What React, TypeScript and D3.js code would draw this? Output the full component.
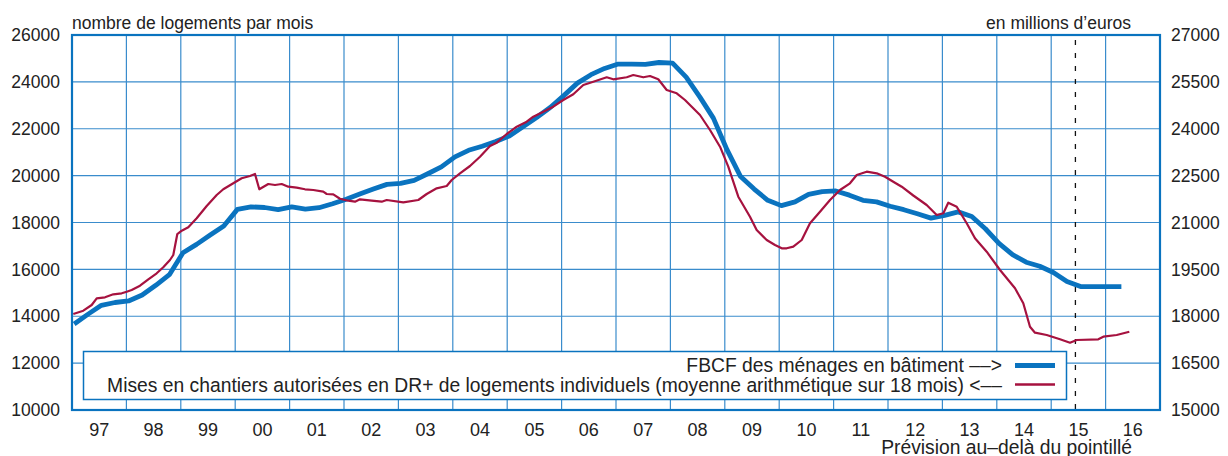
import React, { useEffect } from "react";
import * as d3 from "d3";

const W = 1228;
const H = 456;

const yearLabels = ["97","98","99","00","01","02","03","04","05","06","07","08","09","10","11","12","13","14","15","16"];
const leftTicks = [10000, 12000, 14000, 16000, 18000, 20000, 22000, 24000, 26000];
const rightTicks = [15000, 16500, 18000, 19500, 21000, 22500, 24000, 25500, 27000];

// FBCF des ménages en bâtiment (quarterly, right axis), from 1997 Q1
const fbcfStart = 1997.04;
const fbcfValues = [
  17750,18060,18350,18440,18490,18680,18990,19330,20030,20300,
  20600,20890,21420,21500,21480,21410,21500,21430,21474,21600,
  21745,21910,22070,22220,22250,22350,22560,22780,23100,23310,
  23440,23590,23770,24060,24360,24680,25060,25460,25730,25930,
  26070,26070,26060,26120,26100,25650,25020,24340,23330,22470,
  22070,21710,21540,21660,21900,21990,22010,21875,21710,21660,
  21520,21410,21280,21140,21230,21340,21190,20800,20330,19970,
  19730,19600,19400,19110,18950,18950,18950,18950
];

// Mises en chantiers (left axis)
const dpYears = [
  1997.024,1997.208,1997.362,1997.454,1997.607,1997.759,1997.914,1998.006,1998.097,1998.25,
  1998.403,1998.557,1998.678,1998.801,1998.862,1998.936,1999.017,1999.138,1999.292,1999.476,
  1999.66,1999.781,1999.965,2000.119,2000.272,2000.364,2000.443,2000.608,2000.732,2000.855,
  2000.976,2001.13,2001.283,2001.436,2001.619,2001.682,2001.803,2001.926,2002.079,2002.202,
  2002.294,2002.509,2002.693,2002.785,2003.09,2003.366,2003.52,2003.704,2003.888,2003.98,
  2004.132,2004.316,2004.5,2004.684,2004.807,2004.991,2005.175,2005.358,2005.48,2005.664,
  2005.847,2006.031,2006.215,2006.399,2006.583,2006.829,2006.951,2007.197,2007.318,2007.502,
  2007.625,2007.777,2007.932,2008.116,2008.268,2008.392,2008.544,2008.728,2008.912,2009.064,
  2009.248,2009.463,2009.586,2009.77,2009.923,2010.046,2010.138,2010.259,2010.414,2010.566,
  2010.75,2010.934,2011.118,2011.301,2011.425,2011.608,2011.792,2011.945,2012.097,2012.252,
  2012.465,2012.711,2012.895,2013.017,2013.108,2013.263,2013.447,2013.599,2013.814,2014.059,
  2014.335,2014.487,2014.61,2014.702,2014.917,2015.162,2015.346,2015.469,2015.866,2015.958,
  2016.204,2016.436
];
const dpValues = [
  14096,14237,14480,14766,14809,14937,14979,15047,15120,15303,
  15577,15833,16089,16400,16613,17509,17650,17795,18179,18704,
  19173,19417,19673,19886,19984,20069,19417,19643,19600,19643,
  19528,19485,19417,19387,19314,19216,19203,19015,18930,18887,
  18990,18930,18887,18960,18862,18960,19216,19459,19557,19813,
  20099,20411,20808,21264,21405,21776,22088,22301,22514,22728,
  22941,23227,23470,23867,24008,24196,24110,24196,24293,24196,
  24251,24110,23653,23513,23227,22941,22587,21947,21234,20381,
  19101,18248,17680,17253,17040,16899,16899,16968,17253,17966,
  18461,18960,19387,19673,20027,20168,20099,19954,19741,19528,
  19152,18747,18320,18393,18845,18674,17966,17326,16754,15973,
  15193,14553,13554,13298,13200,13017,12872,12987,13017,13127,
  13200,13341
];

const forecastFrom = 2015.445;

const legendFbcf = "FBCF des ménages en bâtiment ––>";
const legendDp = "Mises en chantiers autorisées en DR+ de logements individuels (moyenne arithmétique sur 18 mois) <––";

const BLUE = "#0a73bf";
const RED = "#a6123f";
const GRID = "#3a8ccc";
const TEXT = "#222";
const FONT = "'Liberation Sans', Arial, Helvetica, sans-serif";

export default function App() {
  useEffect(() => {
    document.body.style.margin = "0";
    document.body.style.overflow = "hidden";
  }, []);

  const left = 72, right = 1160, top = 35, bottom = 410;
  const x = d3.scaleLinear().domain([1997, 2017]).range([left, right]);
  const yL = d3.scaleLinear().domain([10000, 26000]).range([bottom, top]);
  const yR = d3.scaleLinear().domain([15000, 27000]).range([bottom, top]);

  const fbcf = fbcfValues.map((v, i) => [fbcfStart + i / 4, v] as [number, number]);
  const dp = dpYears.map((t, i) => [t, dpValues[i]] as [number, number]);

  const lineB = d3.line<[number, number]>().x(d => x(d[0])).y(d => yR(d[1]));
  const lineR = d3.line<[number, number]>().x(d => x(d[0])).y(d => yL(d[1]));

  const yearBounds = d3.range(1998, 2017);
  const lgX = 83.5, lgY = 351.5, lgW = 983, lgH = 48;

  return (
    <svg width={W} height={H} style={{ display: "block", background: "#fff" }} fontFamily={FONT}>
      <rect x={0} y={0} width={W} height={H} fill="#fff" />
      {/* grid */}
      {leftTicks.slice(1, -1).map(t => (
        <line key={"h" + t} x1={left} x2={right} y1={yL(t)} y2={yL(t)} stroke={GRID} strokeWidth={1.2} />
      ))}
      {yearBounds.map(yv => (
        <line key={"v" + yv} x1={x(yv)} x2={x(yv)} y1={top} y2={bottom} stroke={GRID} strokeWidth={1.2} />
      ))}
      {/* forecast marker */}
      <line x1={x(forecastFrom)} x2={x(forecastFrom)} y1={top + 5} y2={bottom} stroke="#111" strokeWidth={1.3} strokeDasharray="5,8" />
      {/* series */}
      <path d={lineB(fbcf) || ""} fill="none" stroke={BLUE} strokeWidth={4.8} strokeLinejoin="round" />
      <path d={lineR(dp) || ""} fill="none" stroke={RED} strokeWidth={2.2} strokeLinejoin="round" />
      {/* legend */}
      <rect x={lgX} y={lgY} width={lgW} height={lgH} fill="#fff" stroke={BLUE} strokeWidth={1.5} />
      <text x={1002} y={372} textAnchor="end" fontSize={19.3} fill={TEXT}>{legendFbcf}</text>
      <text x={1002} y={391.5} textAnchor="end" fontSize={19.3} fill={TEXT}>{legendDp}</text>
      <line x1={1015} x2={1055} y1={365.5} y2={365.5} stroke={BLUE} strokeWidth={4.8} />
      <line x1={1015} x2={1055} y1={384.5} y2={384.5} stroke={RED} strokeWidth={2.4} />
      {/* frame */}
      <rect x={left} y={top} width={right - left} height={bottom - top} fill="none" stroke={BLUE} strokeWidth={2.2} />
      {/* axis labels */}
      {leftTicks.map(t => (
        <text key={"l" + t} x={60} y={yL(t)} dy="0.35em" textAnchor="end" fontSize={17.5} fill={TEXT}>{t}</text>
      ))}
      {rightTicks.map(t => (
        <text key={"r" + t} x={1171} y={yR(t)} dy="0.35em" textAnchor="start" fontSize={17.5} fill={TEXT}>{t}</text>
      ))}
      {yearLabels.map((lab, i) => (
        <text key={"x" + lab} x={x(1997 + i + 0.5)} y={436} textAnchor="middle" fontSize={18} fill={TEXT}>{lab}</text>
      ))}
      <text x={left} y={29} fontSize={17.5} fill={TEXT}>nombre de logements par mois</text>
      <text x={1131} y={29} textAnchor="end" fontSize={17.5} fill={TEXT}>en millions d’euros</text>
      <text x={1132} y={453.5} textAnchor="end" fontSize={19.3} fill={TEXT}>Prévision au–delà du pointillé</text>
    </svg>
  );
}
